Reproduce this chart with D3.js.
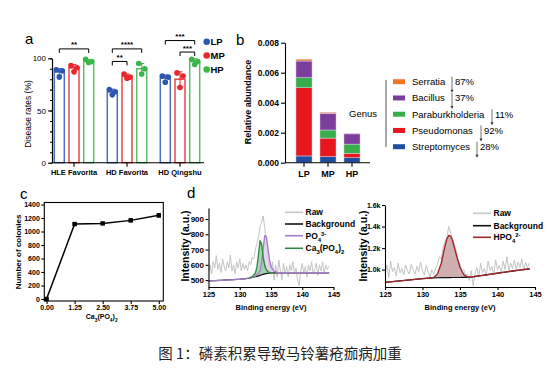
<!DOCTYPE html>
<html>
<head>
<meta charset="utf-8">
<script src="https://cdn.jsdelivr.net/npm/d3@7"></script>
<style>
body { margin: 0; background: #fff; }
svg { display: block; font-family: "Liberation Sans", Arial, sans-serif; }
</style>
</head>
<body>
<script>
// ---------- data ----------
// a: disease rates
const cultivars = ["HLE Favorita", "HD Favorita", "HD Qingshu"]
const levels = ["LP", "MP", "HP"]
const levelColors = ["#2b57b0", "#e8262b", "#3cb54b"]
const rateMean = [[87, 91, 97], [68, 83, 90], [81, 80, 97]]
const rateSd = [[3, 3, 1.5], [2.5, 2, 5], [3, 7, 2.5]]
const rateDots = [
  [[89, 88, 82], [93, 91, 87], [99, 97, 96]],
  [[70, 68, 65], [85, 82, 81], [95, 90, 85]],
  [[83, 82, 77], [86, 83, 72], [99, 97, 94]]
]
// cultivar index, from, to, bracket height (%), stars
const sigPairs = [
  [0, "LP", "HP", 109, "**"],
  [1, "LP", "HP", 109, "****"],
  [1, "LP", "MP", 97, "**"],
  [2, "LP", "HP", 117, "***"],
  [2, "MP", "HP", 106, "***"]
]

// b: relative abundance
const groupsB = ["LP", "MP", "HP"]
const genera = ["Streptomyces", "Pseudomonas", "Paraburkholderia", "Bacillus", "Serratia"]
const generaColors = ["#1f4fa1", "#e8171d", "#37ae49", "#7d3d9d", "#f0762c"]
const streptomyces = [0.00045, 0.00040, 0.00033]
const pseudomonas = [0.00455, 0.00124, 0.00030]
const paraburkholderia = [0.00067, 0.00054, 0.00061]
const bacillus = [0.00111, 0.00110, 0.00068]
const serratia = [0.00012, 0.00008, 0.00004]
const declines = ["28%", "92%", "11%", "37%", "87%"]
const yTicksB = [0, 0.002, 0.004, 0.006, 0.008]

// c: colonies
const phosphate = [0, 1.25, 2.5, 3.75, 5]
const colonies = [0, 1110, 1120, 1165, 1240]
const coloniesErr = [0, 15, 12, 18, 25]
const yTicksC = [0, 200, 400, 600, 800, 1000, 1200, 1400]

// d: XPS spectra (left)
const rawE = [125,125.25,125.5,125.75,126,126.25,126.5,126.75,127,127.25,127.5,127.75,128,128.25,128.5,128.75,129,129.25,129.5,129.75,130,130.25,130.5,130.75,131,131.25,131.5,131.75,132,132.25,132.5,132.75,133,133.25,133.5,133.75,134,134.25,134.5,134.75,135,135.25,135.5,135.75,136,136.25,136.5,136.75,137,137.25,137.5,137.75,138,138.25,138.5,138.75,139,139.25,139.5,139.75,140,140.25,140.5,140.75,141,141.25,141.5,141.75,142,142.25,142.5,142.75,143,143.25,143.5,143.75,144,144.25]
const rawLeft = [560,600,540,620,580,660,570,610,550,640,590,560,620,580,665,560,600,540,620,580,640,560,610,570,600,560,620,600,650,640,700,740,780,850,880,920,840,760,680,600,560,620,500,600,520,630,560,500,610,540,590,520,600,560,620,540,580,500,465,560,610,540,590,520,600,560,620,540,570,610,530,600,560,620,540,600,570,590]
const fitE = [125,126,127,128,129,130,131,131.5,132,132.5,132.75,133,133.25,133.5,133.75,134,134.25,134.5,134.75,135,135.5,136,137,138,139,140,141,142,143,144.3]
const bgLeft = [495,497,499,501,503,506,510,513,517,522,525,528,531,535,538,541,543,545,546,547,548,548,548,548,548,548,548,548,548,548]
const po4Left = [495,497,499,501,503,506,510,513,518,528,535,545,565,620,710,790,785,710,635,588,558,550,548,548,548,548,548,548,548,548]
const caLeft = [495,497,499,501,503,506,510,514,522,545,585,665,760,735,650,595,568,556,550,548,548,548,548,548,548,548,548,548,548,548]
const yTicksDL = [500, 600, 700, 800, 900]

// d: XPS spectra (right)
const rawRight = [960,1040,930,1080,980,1020,940,1060,970,1010,950,1040,990,960,1050,1000,960,1030,980,1070,990,950,1040,980,930,1000,960,1010,1050,1120,1100,1210,1260,1300,1400,1340,1290,1230,1180,1080,1050,980,1000,940,960,900,990,850,960,1020,930,1060,970,1010,940,1080,990,1030,960,1090,1000,1040,970,1080,1000,1120,990,1060,1010,1090,1000,1070,1020,1100,990,1070,1020,1060]
const fitER = [125,126,127,128,129,130,131,131.5,132,132.5,133,133.25,133.5,133.75,134,134.5,135,135.5,136,136.5,137,138,139,140,141,142,143,144.3]
const bgRight = [882,889,896,903,910,917,922,924,925,926,926,926,926,926,927,927,927,928,928,932,937,947,957,967,977,987,997,1008]
const hpo4Right = [882,889,896,903,910,917,922,928,960,1060,1220,1285,1318,1310,1270,1140,1020,955,932,932,937,947,957,967,977,987,997,1008]
const yTicksDR = [1000, 1200, 1400, 1600]
const xTicksD = [125, 130, 135, 140, 145]

// ---------- svg ----------
const svg = d3.select("body").append("svg")
    .attr("width", 560)
    .attr("height", 376)

function styleAxis(g, size, weight) {
  g.selectAll("path, line").attr("stroke", "#000").attr("stroke-width", 1.1)
  g.selectAll("text").attr("font-size", size).attr("font-weight", weight)
    .attr("font-family", "'Liberation Sans', Arial, sans-serif").attr("fill", "#000")
}

// rich text with sub/superscripts: parts = [[text, "sub"|"sup"|""]]
function rich(sel, parts, size) {
  parts.forEach(([t, k]) => {
    const ts = sel.append("tspan").text(t)
    if (k === "sub") ts.attr("baseline-shift", "sub").attr("font-size", size * 0.7)
    if (k === "sup") ts.attr("baseline-shift", "super").attr("font-size", size * 0.7)
    if (k === "") ts.attr("baseline-shift", "0").attr("font-size", size)
  })
}

function panelLabel(t, x, y) {
  svg.append("text").attr("x", x).attr("y", y).attr("font-size", 15).text(t)
}

// ---------- panel a ----------
const ya = d3.scaleLinear().domain([0, 100]).range([162.7, 58.3])
const xa = d3.scaleBand().domain(cultivars).range([47.5, 206.5])
const xin = d3.scaleBand().domain(levels).range([4.45, 48.55]).paddingInner(0.32).paddingOuter(0.16)
const gA = svg.append("g")

cultivars.forEach((c, i) => {
  levels.forEach((l, j) => {
    const x0 = xa(c) + xin(l), cx = x0 + xin.bandwidth() / 2
    const col = levelColors[j]
    gA.append("rect")
        .attr("x", x0).attr("width", xin.bandwidth())
        .attr("y", ya(rateMean[i][j])).attr("height", ya(0) - ya(rateMean[i][j]))
        .attr("fill", "#fff").attr("stroke", col).attr("stroke-width", 1.5).attr("stroke-opacity", 0.85)
    const lo = ya(rateMean[i][j] - rateSd[i][j]), hi = ya(rateMean[i][j] + rateSd[i][j])
    gA.append("path")
        .attr("d", `M${cx},${lo}V${hi}M${cx - 2.5},${hi}H${cx + 2.5}M${cx - 2.5},${lo}H${cx + 2.5}`)
        .attr("stroke", col).attr("stroke-width", 1).attr("fill", "none")
    gA.selectAll(null).data(rateDots[i][j]).join("circle")
        .attr("cx", (d, k) => cx + [-3, 3, 0][k])
        .attr("cy", d => ya(d))
        .attr("r", 2.8)
        .attr("fill", col)
  })
})

sigPairs.forEach(([ci, a, b, h, s]) => {
  const c = cultivars[ci]
  const x1 = xa(c) + xin(a) + xin.bandwidth() / 2
  const x2 = xa(c) + xin(b) + xin.bandwidth() / 2
  const y = ya(h)
  gA.append("path").attr("d", `M${x1},${y + 4}V${y}H${x2}V${y + 4}`)
      .attr("stroke", "#000").attr("stroke-width", 1).attr("fill", "none")
  gA.append("text").attr("x", (x1 + x2) / 2).attr("y", y - 1.5)
      .attr("text-anchor", "middle").attr("font-size", 8).attr("font-weight", "bold").text(s)
})

gA.append("g").attr("transform", "translate(52,0)")
    .call(d3.axisLeft(ya).tickValues(d3.range(0, 101, 10)).tickSize(2).tickSizeOuter(0).tickFormat(""))
    .call(g => styleAxis(g, 8, "normal"))
gA.append("g").attr("transform", "translate(52,0)")
    .call(d3.axisLeft(ya).tickValues([0, 50, 100]).tickSize(4).tickSizeOuter(0).tickPadding(2))
    .call(g => styleAxis(g, 8, "normal"))
gA.append("g").attr("transform", `translate(0,${ya(0)})`)
    .call(d3.axisBottom(xa).tickSize(4).tickPadding(3))
    .call(g => g.select(".domain").remove())
    .call(g => styleAxis(g, 7.5, "bold"))
gA.append("line").attr("x1", 52).attr("x2", 204).attr("y1", ya(0)).attr("y2", ya(0))
    .attr("stroke", "#000").attr("stroke-width", 1.1)

gA.append("text").attr("transform", "translate(31,114) rotate(-90)")
    .attr("text-anchor", "middle").attr("font-size", 8.5).text("Disease rates (%)")

levels.forEach((l, j) => {
  const y = [41.7, 55.5, 69.5][j]
  gA.append("circle").attr("cx", 206.7).attr("cy", y).attr("r", 3.3).attr("fill", levelColors[j])
  gA.append("text").attr("x", 210.5).attr("y", y + 3.3).attr("font-size", 9.5)
      .attr("font-weight", "bold").text(l)
})
panelLabel("a", 25, 44)

// ---------- panel b ----------
const yb = d3.scaleLinear().domain([0, 0.008]).range([162.7, 42.7])
const xb = d3.scaleBand().domain(groupsB).range([292, 364]).paddingInner(0.33).paddingOuter(0.165)
const tableB = groupsB.map((g, i) => ({
  group: g,
  Streptomyces: streptomyces[i],
  Pseudomonas: pseudomonas[i],
  Paraburkholderia: paraburkholderia[i],
  Bacillus: bacillus[i],
  Serratia: serratia[i]
}))
const stackB = d3.stack().keys(genera)(tableB)
const gB = svg.append("g")
gB.selectAll("g.layer").data(stackB).join("g")
    .attr("fill", (d, i) => generaColors[i])
  .selectAll("rect").data(d => d).join("rect")
    .attr("x", d => xb(d.data.group))
    .attr("width", xb.bandwidth())
    .attr("y", d => yb(d[1]))
    .attr("height", d => yb(d[0]) - yb(d[1]))
    .attr("stroke", "#d9d2ec").attr("stroke-width", 0.5)

gB.append("g").attr("transform", "translate(285,0)")
    .call(d3.axisLeft(yb).tickValues(yTicksB).tickFormat(d3.format(".3f")).tickSize(4).tickSizeOuter(0).tickPadding(2))
    .call(g => styleAxis(g, 8.5, "bold"))
gB.append("g").attr("transform", `translate(0,${yb(0)})`)
    .call(d3.axisBottom(xb).tickSize(4).tickPadding(4))
    .call(g => g.select(".domain").remove())
    .call(g => styleAxis(g, 9, "bold"))
gB.append("line").attr("x1", 285).attr("x2", 370).attr("y1", yb(0)).attr("y2", yb(0))
    .attr("stroke", "#000").attr("stroke-width", 1.1)
gB.append("text").attr("transform", "translate(251,102) rotate(-90)")
    .attr("text-anchor", "middle").attr("font-size", 9).attr("font-weight", "bold").text("Relative abundance")

// legend
gB.append("line").attr("x1", 386).attr("x2", 386).attr("y1", 80).attr("y2", 147)
    .attr("stroke", "#555").attr("stroke-width", 1)
gB.append("text").attr("x", 349).attr("y", 116.5).attr("font-size", 9.5).text("Genus")
const legRows = [4, 3, 2, 1, 0]
const arrowX = [477, 481, 492, 452, 452]
legRows.forEach((gi, r) => {
  const y = 81.7 + r * 16.25
  gB.append("rect").attr("x", 393).attr("y", y - 2.5).attr("width", 12).attr("height", 5)
      .attr("fill", generaColors[gi])
  gB.append("text").attr("x", 412).attr("y", y + 3.3).attr("font-size", 9.5).text(genera[gi])
  const ax = arrowX[gi]
  gB.append("path").attr("d", `M${ax},${y - 5}V${y + 9}`).attr("stroke", "#333").attr("stroke-width", 0.7)
  gB.append("path").attr("d", `M${ax - 1.5},${y + 8}L${ax},${y + 11}L${ax + 1.5},${y + 8}Z`).attr("fill", "#333")
  gB.append("text").attr("x", ax + 3).attr("y", y + 3.3).attr("font-size", 9.5).text(declines[gi])
})
panelLabel("b", 236, 45)

// ---------- panel c ----------
const xc = d3.scaleLinear().domain([-0.1, 5.2]).range([44.3, 163.3])
const yc = d3.scaleLinear().domain([-30, 1430]).range([301, 202.5])
const gC = svg.append("g")
gC.append("rect").attr("x", 44.3).attr("y", 202.5).attr("width", 119).attr("height", 98.5)
    .attr("fill", "none").attr("stroke", "#000").attr("stroke-width", 1.1)
gC.append("g").attr("transform", "translate(44.3,0)")
    .call(d3.axisLeft(yc).tickValues(yTicksC).tickFormat(d3.format("d")).tickSize(3).tickSizeOuter(0).tickPadding(1.5))
    .call(g => g.select(".domain").remove())
    .call(g => styleAxis(g, 7, "bold"))
gC.append("g").attr("transform", "translate(0,301)")
    .call(d3.axisBottom(xc).tickValues(phosphate).tickFormat(d3.format(".2f")).tickSize(3).tickPadding(1.5))
    .call(g => g.select(".domain").remove())
    .call(g => styleAxis(g, 7, "bold"))
gC.append("path")
    .datum(phosphate.map((p, i) => [p, colonies[i]]))
    .attr("d", d3.line().x(d => xc(d[0])).y(d => yc(d[1])))
    .attr("fill", "none").attr("stroke", "#000").attr("stroke-width", 1.5)
phosphate.forEach((p, i) => {
  const cx = xc(p)
  gC.append("path")
      .attr("d", `M${cx},${yc(colonies[i] - coloniesErr[i])}V${yc(colonies[i] + coloniesErr[i])}M${cx - 2},${yc(colonies[i] + coloniesErr[i])}H${cx + 2}M${cx - 2},${yc(colonies[i] - coloniesErr[i])}H${cx + 2}`)
      .attr("stroke", "#000").attr("stroke-width", 1)
  gC.append("rect").attr("x", cx - 2.2).attr("y", yc(colonies[i]) - 2.2)
      .attr("width", 4.4).attr("height", 4.4).attr("fill", "#000")
})
gC.append("text").attr("transform", "translate(21,252) rotate(-90)")
    .attr("text-anchor", "middle").attr("font-size", 8).attr("font-weight", "bold").text("Number of colonies")
gC.append("text").attr("x", 101.7).attr("y", 319).attr("text-anchor", "middle")
    .attr("font-weight", "bold").attr("font-size", 7)
    .call(t => rich(t, [["Ca", ""], ["3", "sub"], ["(PO", ""], ["4", "sub"], [")", ""], ["2", "sub"]], 7))
panelLabel("c", 20, 199)

// ---------- panel d ----------
const axisYD = 287
function spectrum(opt) {
  const g = svg.append("g")
  const x = d3.scaleLinear().domain([125, 145]).range(opt.xr)
  const y = d3.scaleLinear().domain(opt.yd).range([axisYD, opt.top])
  const ln = (es, vs) => d3.line().x(i => x(es[i])).y(i => y(vs[i]))(d3.range(es.length))
  g.append("path").attr("d", ln(rawE, opt.raw))
      .attr("fill", "none").attr("stroke", "#c4c4c4").attr("stroke-width", 1)
  opt.peaks.forEach(p => {
    const idx = d3.range(opt.fitE.length).filter(i => opt.fitE[i] >= p.from && opt.fitE[i] <= p.to)
    g.append("path")
        .attr("d", d3.area().x(i => x(opt.fitE[i])).y0(i => y(opt.bg[i])).y1(i => y(p.v[i]))(idx))
        .attr("fill", p.fill).attr("fill-opacity", p.fo)
  })
  g.append("path").attr("d", ln(opt.fitE, opt.bg))
      .attr("fill", "none").attr("stroke", "#111").attr("stroke-width", 1.2)
  opt.peaks.forEach(p => {
    const idx = d3.range(opt.fitE.length).filter(i => opt.fitE[i] >= p.lineFrom && opt.fitE[i] <= p.lineTo)
    g.append("path")
        .attr("d", d3.line().x(i => x(opt.fitE[i])).y(i => y(p.v[i]))(idx))
        .attr("fill", "none").attr("stroke", p.stroke).attr("stroke-width", 1.4)
  })
  g.append("g").attr("transform", `translate(${opt.xr[0]},0)`)
      .call(d3.axisLeft(y).tickValues(opt.yt).tickFormat(opt.fmt).tickSize(3).tickSizeOuter(0).tickPadding(1.5))
      .call(a => styleAxis(a, opt.tickFs, "bold"))
  g.append("g").attr("transform", `translate(0,${axisYD})`)
      .call(d3.axisBottom(x).tickValues(xTicksD).tickSize(3).tickSizeOuter(0).tickPadding(1.5))
      .call(a => styleAxis(a, 7.5, "bold"))
  g.append("text").attr("x", (opt.xr[0] + opt.xr[1]) / 2).attr("y", 310)
      .attr("text-anchor", "middle").attr("font-size", 7.5).attr("font-weight", "bold")
      .text("Binding energy (eV)")
  g.append("text").attr("transform", `translate(${opt.ylx},246) rotate(-90)`)
      .attr("text-anchor", "middle").attr("font-size", 10.5).attr("font-weight", "bold")
      .text("Intensity (a.u.)")
  opt.legend.forEach((it, k) => {
    const ly = opt.legY[k]
    g.append("line").attr("x1", opt.legX).attr("x2", opt.legX + 18).attr("y1", ly).attr("y2", ly)
        .attr("stroke", it.c).attr("stroke-width", 1.6)
    g.append("text").attr("x", opt.legX + 20.5).attr("y", ly + 3)
        .attr("font-size", 8.5).attr("font-weight", "bold")
        .call(t => rich(t, it.t, 8.5))
  })
}

spectrum({
  xr: [208.5, 333.5], yd: [455, 972], top: 208, raw: rawLeft,
  fitE: fitE, bg: bgLeft, yt: yTicksDL, fmt: d3.format("d"), tickFs: 8, ylx: 189,
  peaks: [
    { v: po4Left, from: 132, to: 136, lineFrom: 125, lineTo: 144.3, fill: "#ddd0ea", fo: 0.85, stroke: "#a680c6" },
    { v: caLeft, from: 131.5, to: 135.5, lineFrom: 131.5, lineTo: 135.5, fill: "#8fc994", fo: 0.7, stroke: "#2f8748" }
  ],
  legX: 285, legY: [212.3, 224, 235.7, 248.3],
  legend: [
    { c: "#c8c8c8", t: [["Raw", ""]] },
    { c: "#111", t: [["Background", ""]] },
    { c: "#a680c6", t: [["PO", ""], ["4", "sub"], ["3-", "sup"]] },
    { c: "#2f8748", t: [["Ca", ""], ["3", "sub"], ["(PO", ""], ["4", "sub"], [")", ""], ["2", "sub"]] }
  ]
})

spectrum({
  xr: [385, 535], yd: [839, 1600], top: 205, raw: rawRight,
  fitE: fitER, bg: bgRight, yt: yTicksDR, fmt: d => (d / 1000).toFixed(1) + "k", tickFs: 7, ylx: 367,
  peaks: [
    { v: hpo4Right, from: 131, to: 136.5, lineFrom: 125, lineTo: 144.3, fill: "#b07a7c", fo: 0.6, stroke: "#a3262a" }
  ],
  legX: 473, legY: [213.3, 225.7, 237.3],
  legend: [
    { c: "#c8c8c8", t: [["Raw", ""]] },
    { c: "#111", t: [["Background", ""]] },
    { c: "#a3262a", t: [["HPO", ""], ["4", "sub"], ["2-", "sup"]] }
  ]
})
panelLabel("d", 187, 198)

// ---------- caption ----------
svg.append("text").attr("x", 280).attr("y", 359).attr("text-anchor", "middle")
    .attr("font-family", "'Noto Sans CJK SC', sans-serif").attr("font-size", 14.5)
    .attr("fill", "#222").text("图 1：磷素积累导致马铃薯疮痂病加重")
</script>
</body>
</html>
